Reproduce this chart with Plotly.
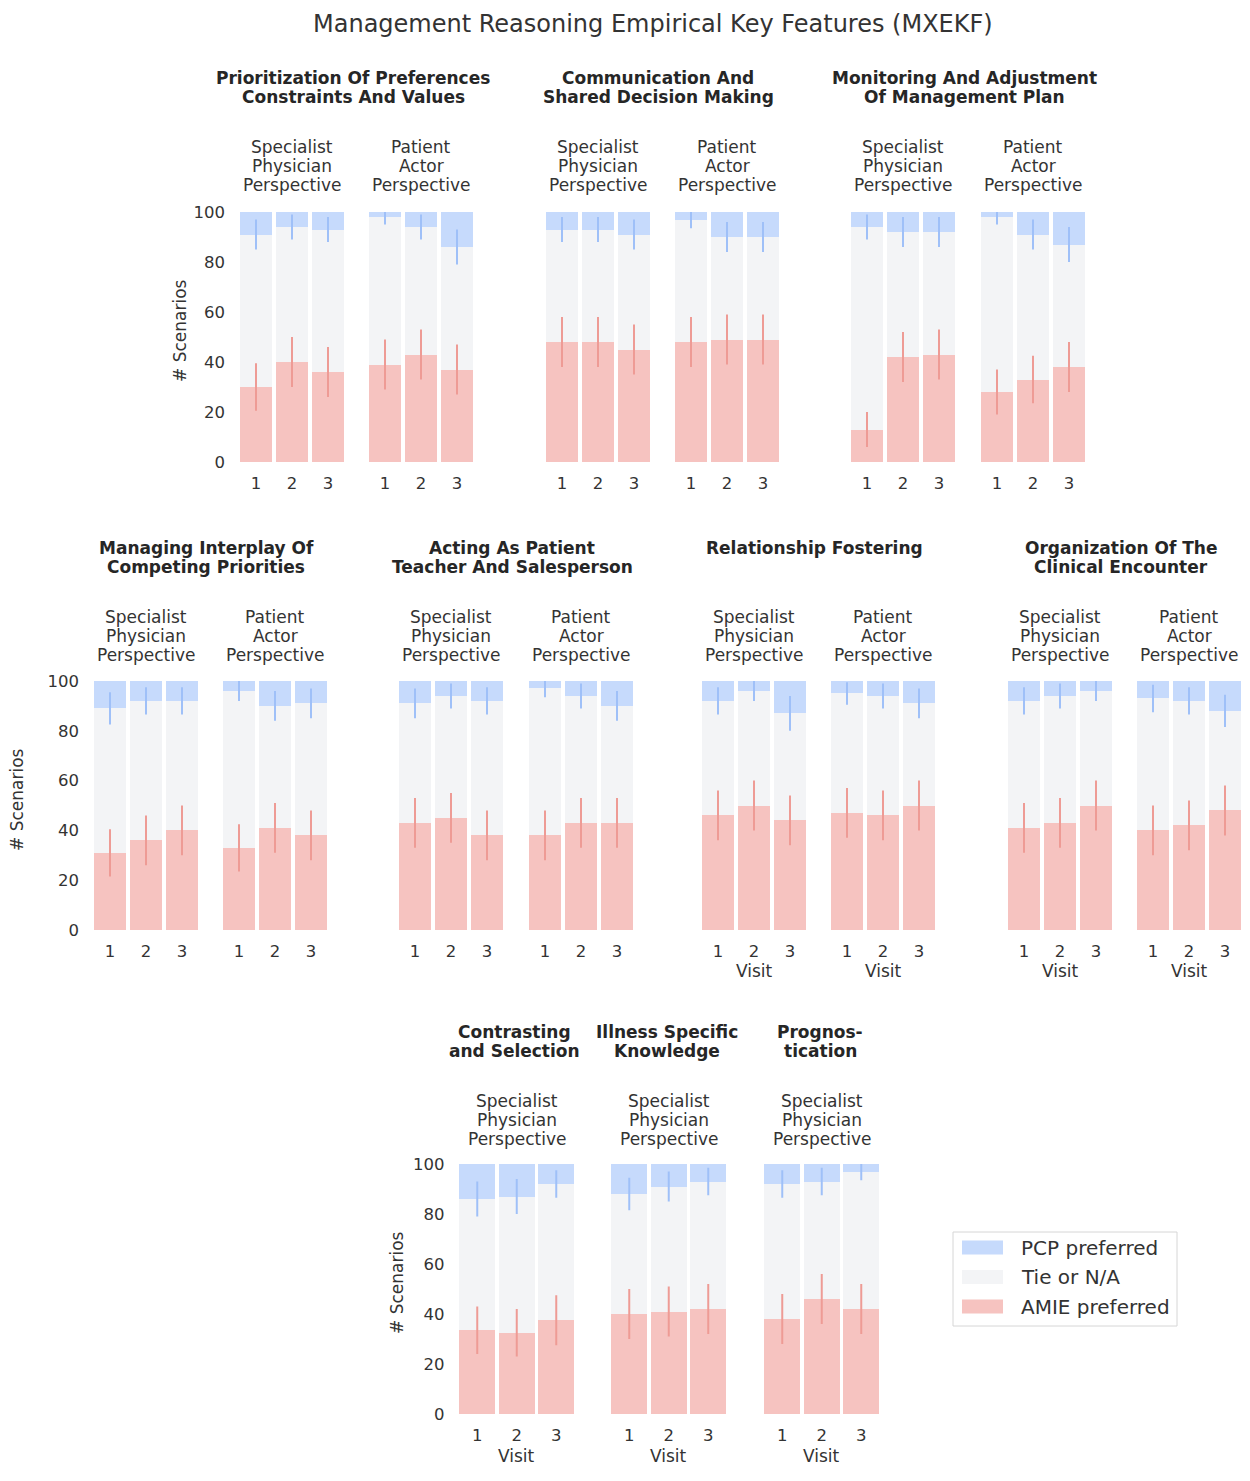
import plotly.graph_objects as go

# ---------------- data ----------------
visits = [1, 2, 3]

group_titles = [
    ["Prioritization Of Preferences", "Constraints And Values"],
    ["Communication And", "Shared Decision Making"],
    ["Monitoring And Adjustment", "Of Management Plan"],
    ["Managing Interplay Of", "Competing Priorities"],
    ["Acting As Patient", "Teacher And Salesperson"],
    ["Relationship Fostering"],
    ["Organization Of The", "Clinical Encounter"],
    ["Contrasting", "and Selection"],
    ["Illness Specific", "Knowledge"],
    ["Prognos-", "tication"],
]

perspective_labels = [
    ["Specialist", "Physician", "Perspective"],
    ["Patient", "Actor", "Perspective"],
]

# panel -> group index and perspective index
panel_group = [0, 0, 1, 1, 2, 2, 3, 3, 4, 4, 5, 5, 6, 6, 7, 8, 9]
panel_persp = [0, 1, 0, 1, 0, 1, 0, 1, 0, 1, 0, 1, 0, 1, 0, 0, 0]

# % of scenarios where AMIE preferred (per visit 1..3)
amie_pref = [
    [30, 40, 36], [39, 43, 37],
    [48, 48, 45], [48, 49, 49],
    [13, 42, 43], [28, 33, 38],
    [31, 36, 40], [33, 41, 38],
    [43, 45, 38], [38, 43, 43],
    [46, 50, 44], [47, 46, 50],
    [41, 43, 50], [40, 42, 48],
    [33.5, 32.5, 37.5], [40, 41, 42], [38, 46, 42],
]
amie_err = [
    [9.5, 10, 10], [10, 10, 10],
    [10, 10, 10], [10, 10, 10],
    [7, 10, 10], [9, 9.5, 10],
    [9.5, 10, 10], [9.5, 10, 10],
    [10, 10, 10], [10, 10, 10],
    [10, 10, 10], [10, 10, 10],
    [10, 10, 10], [10, 10, 10],
    [9.5, 9.5, 10], [10, 10, 10], [10, 10, 10],
]
# % of scenarios where PCP preferred
pcp_pref = [
    [9, 6, 7], [2, 6, 14],
    [7, 7, 9], [3, 10, 10],
    [6, 8, 8], [2, 9, 13],
    [11, 8, 8], [4, 10, 9],
    [9, 6, 8], [3, 6, 10],
    [8, 4, 13], [5, 6, 9],
    [8, 6, 4], [7, 8, 12],
    [14, 13, 8], [12, 9, 7], [8, 7, 3],
]
pcp_err = [
    [6, 5, 5], [3, 5, 7],
    [5, 5, 6], [3.5, 6, 6],
    [5, 6, 6], [3, 6, 7],
    [6.5, 5.5, 5.5], [4, 6, 6],
    [6, 5, 5.5], [3.5, 5, 6],
    [5.5, 4, 7], [4.5, 5, 6],
    [5.5, 5, 4], [5.5, 5.5, 6.5],
    [7, 7, 5.5], [6.5, 6, 5.5], [5.5, 5.5, 3.5],
]
series_names = ["PCP preferred", "Tie or N/A", "AMIE preferred"]
y_ticks = [0, 20, 40, 60, 80, 100]

# ---------------- styling / layout ----------------
W, H = 1250, 1481
OFF_X, OFF_Y = 8, 8          # page body margin
FONT = "DejaVu Sans"
TXT = "#333333"
C_PCP = "#c6dafc"
C_TIE = "#f3f4f6"
C_AMIE = "#f6c3c0"
C_PCP_ERR = "#9fc0f8"
C_AMIE_ERR = "#ee9b95"


def fx(p):
    return (p - OFF_X) / W


def fy(p):
    return 1 - (p - OFF_Y) / H


# pixel extents of each panel's x-axis (left, right) and row index
panel_px = [
    (238, 346), (367, 475), (544, 652), (673, 781), (849, 957), (979, 1087),
    (92, 200), (221, 329), (397, 505), (527, 635), (700, 808), (829, 937),
    (1006, 1114), (1135, 1243),
    (457.5, 576), (609.5, 728), (762.5, 881),
]
panel_row = [0] * 6 + [1] * 8 + [2] * 3
row_y = [(212, 462), (681, 930), (1164, 1414)]  # (y=100 px, y=0 px)
row_first_panel = {0: 0, 1: 6, 2: 14}
group_title_x = [353, 658, 965, 206, 512, 815, 1121, 514, 667, 820]
group_title_y = [[78, 97], [548, 567], [1032, 1051]]
sub_title_y = [[147, 166, 185], [617, 636, 655], [1101, 1120, 1139]]
ytitle_pos = [(180, 331), (17, 800), (397, 1282)]
visit_label_panels = [10, 11, 12, 13, 14, 15, 16]
visit_label_y = {1: 971, 2: 1456}

fig = go.Figure()
layout = dict(
    width=W, height=H, margin=dict(l=0, r=0, t=0, b=0, pad=0, autoexpand=False),
    paper_bgcolor="white", plot_bgcolor="white",
    barmode="stack", bargap=0.1, showlegend=False,
    font=dict(family=FONT, color=TXT),
)
annotations = []
shapes = []


def text(x, y, s, size, color=TXT, anchor="center", angle=0):
    annotations.append(dict(
        x=fx(x), y=fy(y), xref="paper", yref="paper", text=s, showarrow=False,
        textangle=angle, font=dict(size=size, color=color, family=FONT),
        xanchor=anchor, yanchor="middle"))


for i in range(len(amie_pref)):
    n = "" if i == 0 else str(i + 1)
    xa, ya = "x" + n, "y" + n
    r = panel_row[i]
    x0, x1 = panel_px[i]
    ytop, ybot = row_y[r]
    first = row_first_panel[r] == i
    layout["xaxis" + n] = dict(
        domain=[fx(x0), fx(x1)], anchor=ya, range=[0.5, 3.5],
        tickvals=visits, ticktext=[str(v) for v in visits], automargin=False,
        showgrid=False, zeroline=False, showline=False, ticks="",
        tickfont=dict(size=16.5, color=TXT, family=FONT), ticklabelstandoff=9,
    )
    layout["yaxis" + n] = dict(
        domain=[fy(ybot), fy(ytop)], anchor=xa, range=[0, 100], automargin=False,
        tickvals=y_ticks, showticklabels=first,
        showgrid=False, zeroline=False, showline=False, ticks="",
        tickfont=dict(size=16.5, color=TXT, family=FONT), ticklabelstandoff=12,
    )
    amie = amie_pref[i]
    pcp = pcp_pref[i]
    tie = [100 - a - p for a, p in zip(amie, pcp)]
    for vals, col, name in [(amie, C_AMIE, series_names[2]),
                            (tie, C_TIE, series_names[1]),
                            (pcp, C_PCP, series_names[0])]:
        fig.add_trace(go.Bar(x=visits, y=vals, xaxis=xa, yaxis=ya, width=0.9,
                             marker=dict(color=col, line=dict(width=0)),
                             name=name, showlegend=False))
    fig.add_trace(go.Scatter(
        x=visits, y=amie, xaxis=xa, yaxis=ya, mode="markers",
        marker=dict(size=1, color="rgba(0,0,0,0)"), cliponaxis=False,
        error_y=dict(type="data", array=amie_err[i], symmetric=True,
                     width=0, thickness=2, color=C_AMIE_ERR),
        showlegend=False, hoverinfo="skip"))
    fig.add_trace(go.Scatter(
        x=visits, y=[100 - p for p in pcp], xaxis=xa, yaxis=ya, mode="markers",
        marker=dict(size=1, color="rgba(0,0,0,0)"), cliponaxis=False,
        error_y=dict(type="data", array=pcp_err[i], symmetric=True,
                     width=0, thickness=2, color=C_PCP_ERR),
        showlegend=False, hoverinfo="skip"))
    cx = (x0 + x1) / 2
    for line, ly in zip(perspective_labels[panel_persp[i]], sub_title_y[r]):
        text(cx, ly, line, 17)
    if i in visit_label_panels:
        text(cx, visit_label_y[r], "Visit", 17)

group_row = [0, 0, 0, 1, 1, 1, 1, 2, 2, 2]
for g, lines in enumerate(group_titles):
    ys = group_title_y[group_row[g]]
    for line, ly in zip(lines, ys):
        text(group_title_x[g], ly, "<b>" + line + "</b>", 17, color="#262626")

for (tx, ty) in ytitle_pos:
    text(tx, ty, "# Scenarios", 17, angle=-90)

# main title
text(653, 24, "Management Reasoning Empirical Key Features (MXEKF)", 24)

# legend box
shapes.append(dict(type="rect", xref="paper", yref="paper",
                   x0=fx(953), x1=fx(1177), y0=fy(1326), y1=fy(1232),
                   line=dict(color="#d6d6d6", width=1), fillcolor="white", layer="above"))
legend_cols = [C_PCP, C_TIE, C_AMIE]
for k, (name, col) in enumerate(zip(series_names, legend_cols)):
    cy = 1247.5 + 29.5 * k
    shapes.append(dict(type="rect", xref="paper", yref="paper",
                       x0=fx(962), x1=fx(1003), y0=fy(cy + 7), y1=fy(cy - 7),
                       line=dict(width=0), fillcolor=col, layer="above"))
    text(1019, cy, name, 20, anchor="left")

# thin border line at right edge of the image
shapes.append(dict(type="line", xref="paper", yref="paper",
                   x0=fx(1249), x1=fx(1249), y0=0, y1=1,
                   line=dict(color="#b8b8b8", width=2), layer="above"))

layout["annotations"] = annotations
layout["shapes"] = shapes
fig.update_layout(**layout)
fig.write_html("out.html")
